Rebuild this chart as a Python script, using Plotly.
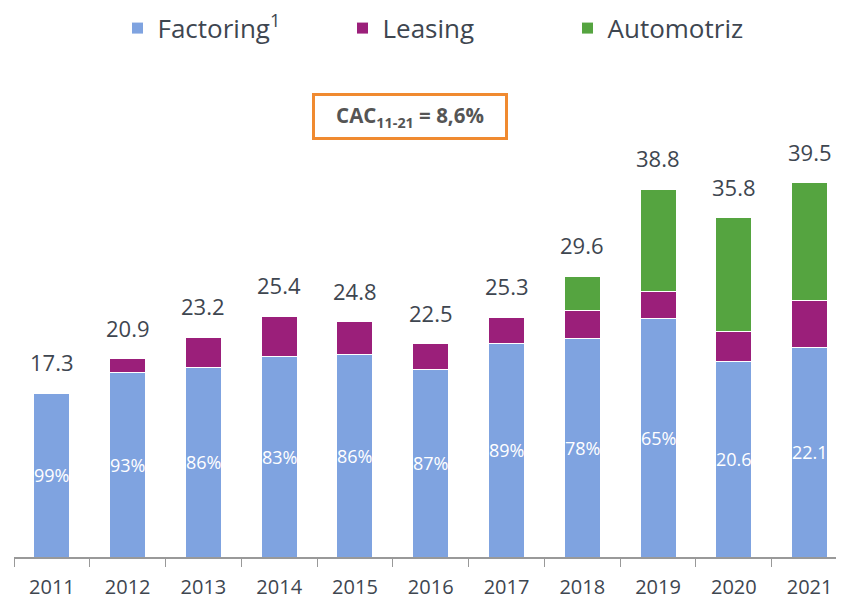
import plotly.graph_objects as go

years = ["2011", "2012", "2013", "2014", "2015", "2016", "2017", "2018", "2019", "2020", "2021"]
factoring = [17.3, 19.5, 20.0, 21.1, 21.4, 19.8, 22.5, 23.1, 25.2, 20.6, 22.1]
leasing = [0.0, 1.4, 3.2, 4.3, 3.4, 2.7, 2.8, 2.9, 2.8, 3.2, 5.0]
automotriz = [0, 0, 0, 0, 0, 0, 0, 3.6, 10.8, 12.0, 12.4]
totals = [17.3, 20.9, 23.2, 25.4, 24.8, 22.5, 25.3, 29.6, 38.8, 35.8, 39.5]
inner_labels = ["99%", "93%", "86%", "83%", "86%", "87%", "89%", "78%", "65%", "20.6", "22.1"]

FONT = "Open Sans"
TXT = "#3e4650"

fig = go.Figure()
fig.add_trace(go.Bar(
    x=years, y=factoring, name="Factoring<sup>1</sup>",
    marker=dict(color="#7fa3e0", line=dict(color="#ffffff", width=1)),
))
fig.add_trace(go.Bar(
    x=years, y=leasing, name="Leasing",
    marker=dict(color="#9b1f7a", line=dict(color="#ffffff", width=1)),
))
fig.add_trace(go.Bar(
    x=years, y=automotriz, name="Automotriz",
    marker=dict(color="#55a440", line=dict(color="#ffffff", width=1)),
))

for i, (f, lab) in enumerate(zip(factoring, inner_labels)):
    fig.add_annotation(x=i, y=f / 2, text=lab, showarrow=False,
                       font=dict(size=18, color="white", family=FONT))

for i, t in enumerate(totals):
    fig.add_annotation(x=i, y=t, text=f"{t:.1f}", showarrow=False,
                       yanchor="bottom", yshift=14,
                       font=dict(size=22, color=TXT, family=FONT))

fig.add_annotation(
    xref="paper", yref="paper", x=0.477, y=0.886, xanchor="center", yanchor="middle",
    text="<b>CAC<sub>11-21</sub> = 8,6%</b>", showarrow=False,
    font=dict(size=20.5, color="#555555", family=FONT),
    bordercolor="#f08a30", borderwidth=3, borderpad=6,
    width=178, height=29, bgcolor="white",
)

fig.update_layout(
    barmode="stack", bargap=0.525,
    width=836, height=593,
    margin=dict(l=6, r=0, t=52, b=44, autoexpand=False),
    plot_bgcolor="white", paper_bgcolor="white",
    font=dict(family=FONT, color=TXT),
    showlegend=True,
    legend=dict(orientation="h", x=0.1247, xanchor="left", y=1.064, yanchor="middle",
                font=dict(size=26, color=TXT, family=FONT),
                entrywidth=180, itemwidth=30, traceorder="normal"),
    xaxis=dict(type="category", range=[-0.5, 10.454], showline=True, linecolor="#999999", linewidth=2,
               ticks="outside", tickson="boundaries", ticklen=8, tickcolor="#999999",
               ticklabelstandoff=11,
               tickfont=dict(size=20, color=TXT, family=FONT), showgrid=False, automargin=False),
    yaxis=dict(visible=False, range=[0, 52.43]),
)

fig.write_html("out.html")
